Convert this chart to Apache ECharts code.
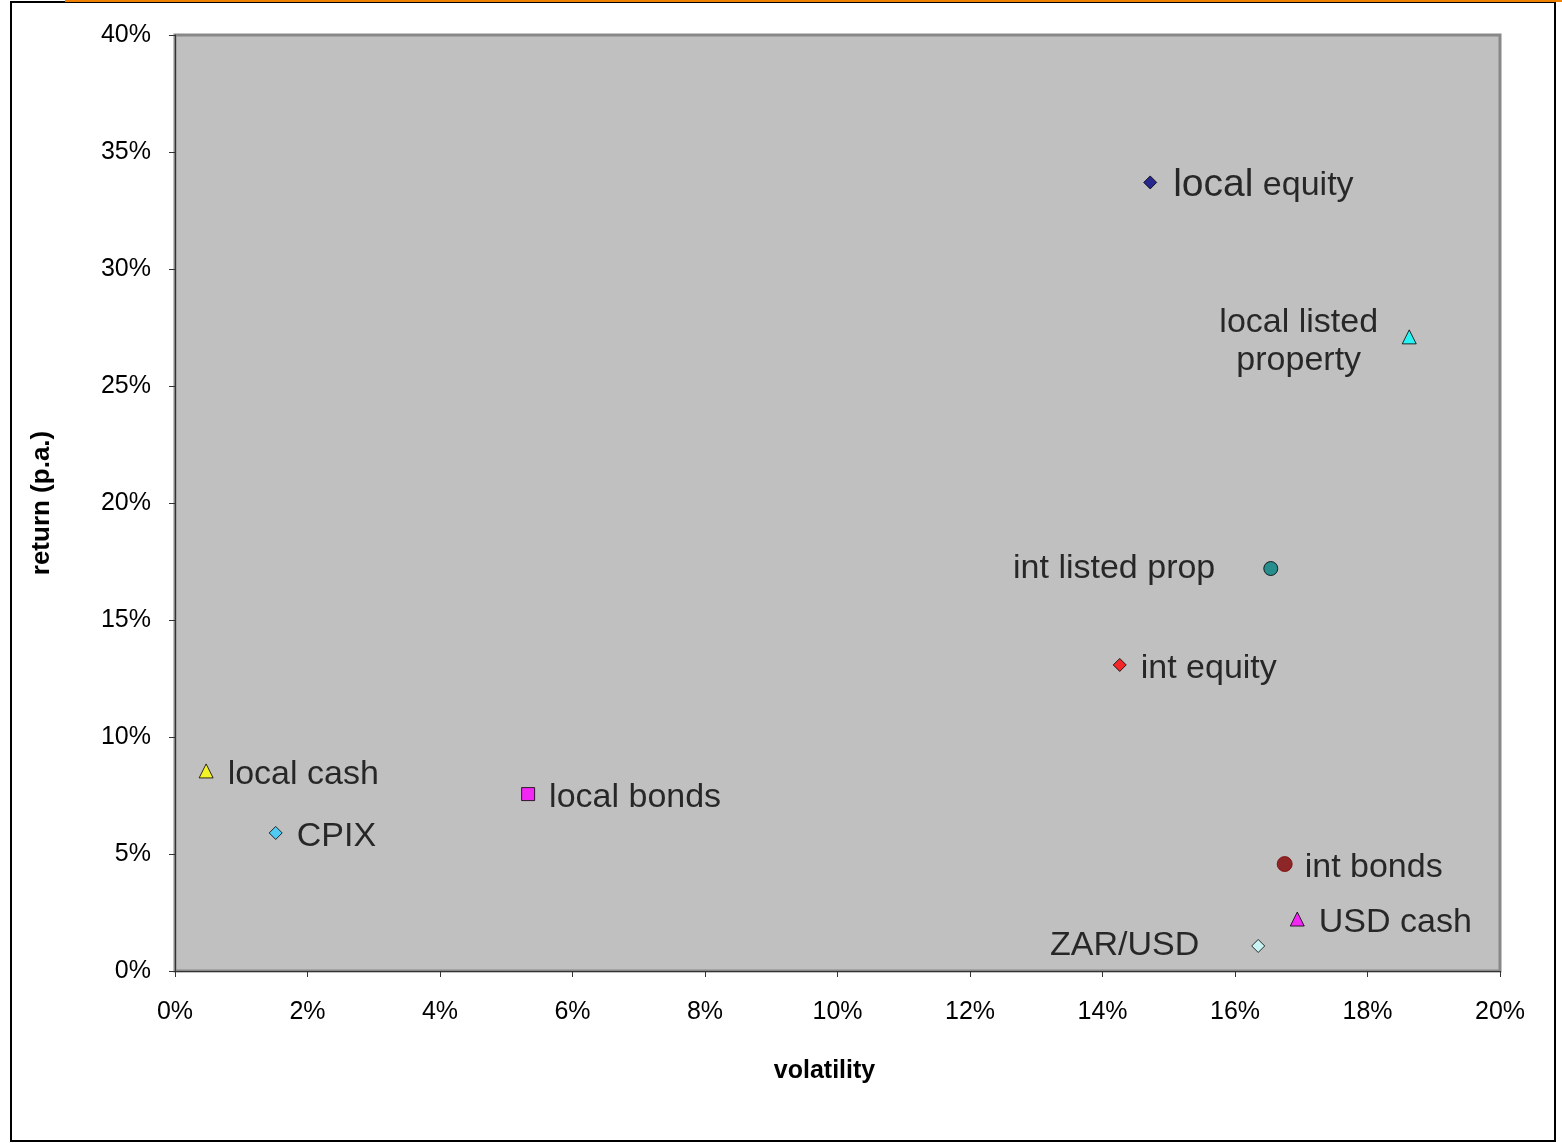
<!DOCTYPE html>
<html>
<head>
<meta charset="utf-8">
<script src="https://cdn.jsdelivr.net/npm/echarts@6/dist/echarts.min.js"></script>
<style>
    html, body { margin: 0; padding: 0; background: #fff; }
    #main { width: 1562px; height: 1143px; }
</style>
</head>
<body>
<div id="main"></div>
<script type="text/javascript">
    // 资产类别数据 (volatility %, return %)
    const assetNames = ['local equity', 'local listed\nproperty', 'int listed prop', 'int equity', 'local cash',
        'local bonds', 'CPIX', 'int bonds', 'USD cash', 'ZAR/USD'];
    const volatility = [14.72, 18.63, 16.54, 14.26, 0.47, 5.33, 1.52, 16.75, 16.94, 16.35];
    const annualReturn = [33.7, 27.1, 17.2, 13.08, 8.55, 7.56, 5.9, 4.57, 2.22, 1.07];
    const symbols = ['diamond', 'triangle', 'circle', 'diamond', 'triangle', 'rect', 'diamond', 'circle', 'triangle', 'diamond'];
    const colors = ['#000080', '#00FFFF', '#008080', '#FF0000', '#FFFF00', '#FF00FF', '#33CCFF', '#800000', '#FF00FF', '#CCFFFF'];
    const labelSide = ['right', 'left', 'left', 'right', 'right', 'right', 'right', 'right', 'right', 'left'];

    const xTicks = [0, 20, 2];   // min, max, interval
    const yTicks = [0, 40, 5];

    let seriesData = [];
    for (let i = 0; i < assetNames.length; i++) {
        let item = {
            name: assetNames[i],
            value: [volatility[i], annualReturn[i]],
            symbol: symbols[i],
            symbolSize: symbols[i] === 'diamond' ? 13 : (symbols[i] === 'rect' ? 13 : 14),
            itemStyle: {
                color: colors[i],
                borderColor: i === 7 ? colors[i] : '#000',
                borderWidth: 1
            },
            label: {
                position: labelSide[i],
                distance: 14,
                offset: [0, 4]
            }
        };
        if (i === 0) {
            item.label.formatter = '{a|local} {b|equity}';
            item.label.distance = 16;
            item.label.offset = [0, 3];
        }
        if (i === 1) {
            item.label.align = 'center';
            item.label.distance = 0;
            item.label.offset = [-103, 5];
            item.label.lineHeight = 38;
        }
        if (i === 2) {
            item.label.distance = 48;
            item.label.offset = [0, 0];
        }
        if (i === 7) {
            item.symbolSize = 15;
            item.label.distance = 12;
        }
        if (i === 9) {
            item.label.distance = 52;
            item.label.offset = [0, 0];
        }
        seriesData.push(item);
    }

    let myChart = echarts.init(document.getElementById('main'));

    let option = {
        backgroundColor: '#fff',
        animation: false,
        textStyle: { fontFamily: 'Liberation Sans, Arial, sans-serif' },
        graphic: [
            {
                type: 'rect',
                shape: { x: 11, y: 2, width: 1544, height: 1139 },
                style: { fill: 'none', stroke: '#000', lineWidth: 2 },
                z: 100
            },
            {
                type: 'rect',
                shape: { x: 65, y: 0, width: 1497, height: 2 },
                style: { fill: '#F08000' },
                z: 101
            }
        ],
        grid: {
            left: 175,
            right: 62,
            top: 35,
            bottom: 172,
            show: true,
            backgroundColor: '#C0C0C0',
            borderColor: '#888',
            borderWidth: 3
        },
        xAxis: {
            type: 'value',
            min: xTicks[0],
            max: xTicks[1],
            interval: xTicks[2],
            name: 'volatility',
            nameLocation: 'middle',
            nameGap: 88,
            nameTextStyle: { fontSize: 25, fontWeight: 'bold', color: '#000', padding: [0, 26, 0, 0] },
            axisLine: { show: true, lineStyle: { color: '#333', width: 1 } },
            axisTick: { show: true, length: 6, lineStyle: { color: '#333' } },
            axisLabel: { formatter: '{value}%', fontSize: 25, color: '#000', margin: 29 },
            splitLine: { show: false }
        },
        yAxis: {
            type: 'value',
            min: yTicks[0],
            max: yTicks[1],
            interval: yTicks[2],
            name: 'return (p.a.)',
            nameLocation: 'middle',
            nameGap: 120,
            nameRotate: 90,
            nameTextStyle: { fontSize: 26, fontWeight: 'bold', color: '#000' },
            axisLine: { show: true, lineStyle: { color: '#333', width: 1 } },
            axisTick: { show: true, length: 6, lineStyle: { color: '#333' } },
            axisLabel: { formatter: '{value}%', fontSize: 25, color: '#000', margin: 24 },
            splitLine: { show: false }
        },
        series: [{
            type: 'scatter',
            data: seriesData,
            label: {
                show: true,
                formatter: '{b}',
                fontSize: 34,
                color: '#000',
                rich: {
                    a: { fontSize: 39, color: '#000' },
                    b: { fontSize: 34, color: '#000' }
                }
            }
        }]
    };
    myChart.setOption(option);
</script>
</body>
</html>
